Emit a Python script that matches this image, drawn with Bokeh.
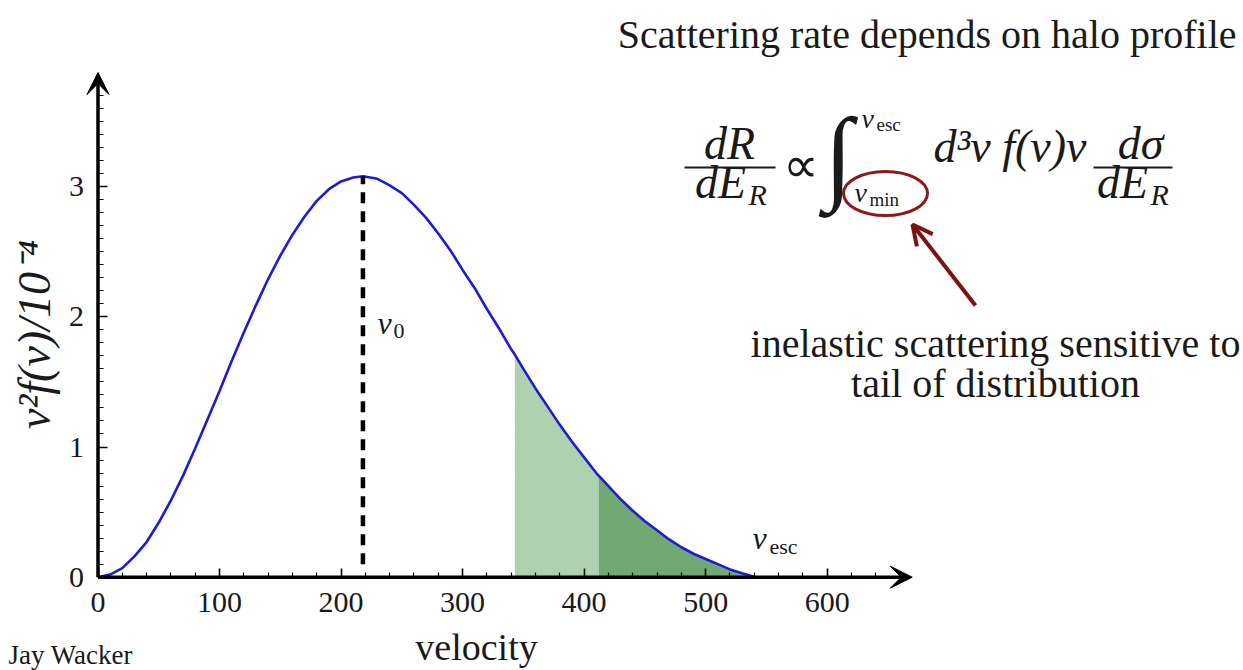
import math
import numpy as np
from bokeh.plotting import figure
from bokeh.models import (Range1d, LinearAxis, FixedTicker, Label, Arrow,
                          VeeHead, OpenHead)
from bokeh.embed import file_html
from bokeh.resources import INLINE

# ---------------- data ----------------
velocity = [0, 10, 20, 30, 40, 50, 60, 70, 80, 90, 100, 110, 120, 130, 140,
            150, 160, 170, 180, 190, 200, 210, 218, 230, 240, 250, 260, 270,
            280, 290, 300, 310, 320, 330, 340, 343, 350, 360, 370, 380, 390,
            400, 410, 412, 420, 430, 440, 450, 460, 470, 480, 490, 500, 510,
            520, 530, 541]
v2f = [0.00, 0.02, 0.07, 0.16, 0.27, 0.42, 0.59, 0.78, 0.99, 1.21, 1.43,
       1.66, 1.88, 2.09, 2.29, 2.47, 2.63, 2.77, 2.89, 2.98, 3.04, 3.07,
       3.08, 3.06, 3.01, 2.95, 2.86, 2.76, 2.64, 2.51, 2.36, 2.22, 2.06,
       1.91, 1.75, 1.71, 1.60, 1.45, 1.31, 1.17, 1.04, 0.92, 0.80, 0.78,
       0.70, 0.60, 0.51, 0.43, 0.36, 0.29, 0.23, 0.18, 0.14, 0.10, 0.06,
       0.03, 0.00]
v0 = 218
v_min_light = 343
v_min_dark = 412
v_esc = 541
x_ticks = [0, 100, 200, 300, 400, 500, 600]
x_minor = [20, 40, 60, 80, 120, 140, 160, 180, 220, 240, 260, 280, 320, 340,
           360, 380, 420, 440, 460, 480, 520, 540, 560, 580, 620, 640, 660]
y_ticks = [0, 1, 2, 3]
y_minor = [0.1, 0.2, 0.3, 0.4, 0.5, 0.6, 0.7, 0.8, 0.9, 1.1, 1.2, 1.3, 1.4,
           1.5, 1.6, 1.7, 1.8, 1.9, 2.1, 2.2, 2.3, 2.4, 2.5, 2.6, 2.7, 2.8,
           2.9, 3.1, 3.2, 3.3, 3.4, 3.5, 3.6, 3.7, 3.8]
x_axis_end = 670
y_axis_end = 3.876

# ---------------- layout ----------------
W, H = 1243, 670
X0, XS = 97.5, 1.2153      # canvas px of v=0, px per velocity unit
Y0, YS = 576.7, 130.2      # canvas px (from top) of y=0, px per unit


def dx(px):
    return (px - X0) / XS


def dy(py):
    return (Y0 - py) / YS


p = figure(width=W, height=H, output_backend="svg", toolbar_location=None,
           x_range=Range1d(-X0 / XS, (W - X0) / XS),
           y_range=Range1d((Y0 - H) / YS, Y0 / YS),
           x_axis_type=None, y_axis_type=None, min_border=0,
           outline_line_color=None, background_fill_color="white",
           border_fill_color="white")

SERIF = "Liberation Serif"
INK = "#1a1a1a"

xaxis = LinearAxis(fixed_location=0,
                   ticker=FixedTicker(ticks=x_ticks, minor_ticks=x_minor),
                   axis_line_color=None,
                   major_tick_in=9, major_tick_out=0, major_tick_line_width=1.6,
                   minor_tick_in=5, minor_tick_out=0, minor_tick_line_width=1.2,
                   major_label_text_font=SERIF,
                   major_label_text_font_size="30px",
                   major_label_text_color=INK,
                   major_label_standoff=16)
yaxis = LinearAxis(fixed_location=0,
                   ticker=FixedTicker(ticks=y_ticks, minor_ticks=y_minor),
                   axis_line_color=None,
                   major_tick_in=9, major_tick_out=0, major_tick_line_width=1.6,
                   minor_tick_in=5, minor_tick_out=0, minor_tick_line_width=1.2,
                   major_label_text_font=SERIF,
                   major_label_text_font_size="30px",
                   major_label_text_color=INK,
                   major_label_standoff=14)
p.add_layout(xaxis, "below")
p.add_layout(yaxis, "left")

# shaded tail regions
vel = np.array(velocity, dtype=float)
val = np.array(v2f, dtype=float)
m1 = (vel >= v_min_light) & (vel <= v_min_dark)
m2 = (vel >= v_min_dark) & (vel <= v_esc)
p.varea(x=vel[m1], y1=0, y2=val[m1], fill_color="#b0d1b0")
p.varea(x=vel[m2], y1=0, y2=val[m2], fill_color="#72a972")

# curve
p.line(velocity, v2f, line_color="#1c1cd2", line_width=2.6)

# v0 dashed line
peak = max(v2f)
p.line([v0, v0], [0.1, peak], line_color="black", line_width=4.5,
       line_dash="11 8")

# axes arrows
p.add_layout(Arrow(x_start=0, y_start=0, x_end=x_axis_end, y_end=0,
                   line_color="black", line_width=3.5,
                   end=VeeHead(size=22, fill_color="black", line_color="black",
                               line_width=1)))
p.add_layout(Arrow(x_start=0, y_start=0, x_end=0, y_end=y_axis_end,
                   line_color="black", line_width=3.5,
                   end=VeeHead(size=22, fill_color="black", line_color="black",
                               line_width=1)))

K = 0.33  # rendered baseline sits about K*size below the requested one


def lab(text, px, py, size, align="left", style="normal", color=INK,
        angle=0.0, baseline="alphabetic", font=SERIF):
    yy = py - K * size if baseline == "alphabetic" else py
    p.add_layout(Label(x=dx(px), y=dy(yy), text=text, text_font=font,
                       text_font_size=f"{size}px", text_font_style=style,
                       text_color=color, text_align=align,
                       text_baseline=baseline, angle=angle))


# axis labels
lab("velocity", 476, 659, 38, align="center")
lab("v²f(v)/10⁻⁴", 34, 334, 46, align="center", style="italic",
    angle=math.pi / 2, baseline="middle")

# curve annotations
lab("v", 377, 333, 32, style="italic")
lab("0", 393, 338, 22)
lab("v", 752, 548, 32, style="italic")
lab("esc", 769, 553, 22)

# texts
lab("Scattering rate depends on halo profile", 1236, 47, 40, align="right")
lab("inelastic scattering sensitive to", 995, 356, 40, align="center")
lab("tail of distribution", 995, 396, 40, align="center")
lab("Jay Wacker", 8, 663, 27)

# formula
lab("dR", 729, 158, 46, align="center", style="italic")
lab("dE", 720, 197, 46, align="center", style="italic")
lab("R", 748, 204, 30, style="italic")
p.segment(x0=[dx(684)], y0=[dy(167)], x1=[dx(775)], y1=[dy(167)],
          line_color=INK, line_width=2.2)
lab("∝", 800, 181, 50, align="center")
lab("∫", 838, 188, 104, align="center")
lab("v", 861, 127, 28, style="italic")
lab("esc", 876, 130, 19)
lab("v", 854, 201, 28, style="italic")
lab("min", 869, 205, 19)
p.ellipse(x=[dx(885)], y=[dy(193)], width=84, height=44,
          width_units="screen", height_units="screen",
          fill_color=None, line_color="#8b1a1a", line_width=3)
lab("d³v f(v)v", 933, 161, 46, style="italic")
lab("dσ", 1140, 158, 46, align="center", style="italic")
lab("dE", 1122, 197, 46, align="center", style="italic")
lab("R", 1150, 204, 30, style="italic")
p.segment(x0=[dx(1093)], y0=[dy(167)], x1=[dx(1172)], y1=[dy(167)],
          line_color=INK, line_width=2.2)

# pointer arrow
p.add_layout(Arrow(x_start=dx(975), y_start=dy(305), x_end=dx(912),
                   y_end=dy(224), line_color="#7a1212", line_width=4,
                   end=OpenHead(size=20, line_width=4, line_color="#7a1212")))

open("out.html", "w").write(file_html(p, INLINE))
